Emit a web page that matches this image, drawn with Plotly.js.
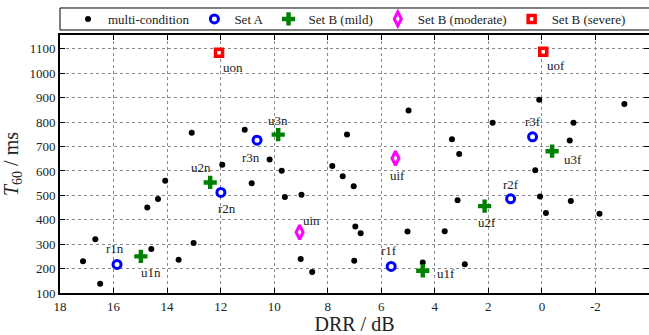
<!DOCTYPE html>
<html>
<head>
<meta charset="utf-8">
<script src="https://cdn.plot.ly/plotly-3.0.1.min.js"></script>
<style>html,body{margin:0;padding:0;background:#fff;}#chart{width:649px;height:335px;}</style>
</head>
<body>
<div id="chart"></div>
<script>
// ---- data ----
const multiDRR = [17.14,16.68,16.5,14.59,14.74,14.34,14.07,13.57,13.01,13.08,11.1,11.94,10.17,9.72,7.28,7.83,7.44,4.98,10.84,9.6,8.98,7.03,6.97,6.77,5.02,9.01,8.58,7.01,0.1,-3.08,1.84,-1.18,3.36,-1.04,3.09,0.25,3.15,0.07,-1.08,-0.15,-2.15,3.63,4.45,2.88];
const multiT60 = [230,320,138,280,450,485,560,236,305,757,769,625,647,601,749,620,578,848,550,493,503,537,372,345,352,239,186,232,892,874,798,798,730,725,669,603,480,495,477,428,425,353,225,218];

const setANames = ["r1n","r2n","r3n","r1f","r2f","r3f"];
const setADRR = [15.87,11.99,10.64,5.63,1.17,0.35];
const setAT60 = [217,512,726,209,486,740];

const mildNames = ["u1n","u2n","u3n","u1f","u2f","u3f"];
const mildDRR = [14.98,12.39,9.85,4.45,2.14,-0.38];
const mildT60 = [250,553,749,191,456,681];

const modNames = ["uin","uif"];
const modDRR = [9.05,5.47];
const modT60 = [349,652];

const sevNames = ["uon","uof"];
const sevDRR = [12.06,-0.05];
const sevT60 = [1084,1088];

const xTickVals = [18,16,14,12,10,8,6,4,2,0,-2,-4];
const xTickText = ["18","16","14","12","10","8","6","4","2","0","-2","-4"];
const yTickVals = [100,200,300,400,500,600,700,800,900,1000,1100];

// ---- label placement (style: pixel offsets of each label from its marker) ----
const labelOffsets = {
  r1n:[-2,-16], r2n:[6,16], r3n:[-6,17], r1f:[-2,-16], r2f:[0,-14], r3f:[0,-15],
  u1n:[10,16], u2n:[-9,-15], u3n:[0,-14], u1f:[23,3], u2f:[2,16], u3f:[21,8],
  uin:[12,-12], uif:[2,17], uon:[14,15], uof:[13,14]
};

const FONT = "Liberation Serif, 'Times New Roman', serif";

const traces = [
  {type:'scatter', mode:'markers', name:'multi-condition', x:multiDRR, y:multiT60,
   marker:{symbol:'circle', size:6, color:'black'}},
  {type:'scatter', mode:'markers', name:'Set A', x:setADRR, y:setAT60,
   marker:{symbol:'circle', size:8, color:'white', line:{color:'rgb(0,0,255)', width:3}}},
  {type:'scatter', mode:'markers', name:'Set B (mild)', x:mildDRR, y:mildT60,
   marker:{symbol:'cross', size:11, color:'rgb(0,128,0)', line:{width:0}}},
  {type:'scatter', mode:'markers', name:'Set B (moderate)', x:modDRR, y:modT60,
   marker:{symbol:'diamond-tall', size:10, color:'white', line:{color:'rgb(255,0,255)', width:3}}},
  {type:'scatter', mode:'markers', name:'Set B (severe)', x:sevDRR, y:sevT60,
   marker:{symbol:'square', size:7, color:'white', line:{color:'rgb(255,0,0)', width:3.5}}}
];

const annotations = [];
function addLabels(names, xs, ys){
  names.forEach((n,i)=>{
    const o = labelOffsets[n] || [0,0];
    annotations.push({x:xs[i], y:ys[i], xref:'x', yref:'y', text:n, showarrow:false,
      xshift:o[0], yshift:-o[1], font:{family:FONT, size:13, color:'#222'}});
  });
}
addLabels(setANames, setADRR, setAT60);
addLabels(mildNames, mildDRR, mildT60);
addLabels(modNames, modDRR, modT60);
addLabels(sevNames, sevDRR, sevT60);

const axisCommon = {
  showline:true, linecolor:'black', linewidth:2, mirror:'ticks',
  ticks:'inside', ticklen:5, tickwidth:1, tickcolor:'black',
  showgrid:true, gridcolor:'#888', griddash:'dot', gridwidth:1,
  zeroline:false, tickfont:{family:FONT, size:13, color:'#222'}
};

const layout = {
  width:649, height:335,
  margin:{l:60, r:0, t:35, b:42},
  paper_bgcolor:'white', plot_bgcolor:'white',
  font:{family:FONT, size:13, color:'#222'},
  xaxis: Object.assign({}, axisCommon, {
    range:[18,-4], tickmode:'array', tickvals:xTickVals, ticktext:xTickText,
    title:{text:'DRR / dB', font:{family:FONT, size:20, color:'#222'}, standoff:8}
  }),
  yaxis: Object.assign({}, axisCommon, {
    range:[100,1157], tickmode:'array', tickvals:yTickVals,
    title:{text:'<i>T</i><sub>60</sub> / ms', font:{family:FONT, size:20, color:'#222'}, standoff:6}
  }),
  showlegend:true,
  legend:{orientation:'h', x:0.0136, xanchor:'left', y:1.062, yanchor:'middle',
    borderwidth:0, bgcolor:'rgba(0,0,0,0)',
    font:{family:FONT, size:13, color:'#222'}, itemclick:false},
  shapes:[{type:'rect', xref:'paper', yref:'paper', x0:0, x1:1.05, y0:1.0194, y1:1.1047,
    line:{color:'black', width:1}, fillcolor:'rgba(0,0,0,0)', layer:'below'}],
  annotations:annotations
};

Plotly.newPlot('chart', traces, layout, {staticPlot:true, displayModeBar:false});
</script>
</body>
</html>
